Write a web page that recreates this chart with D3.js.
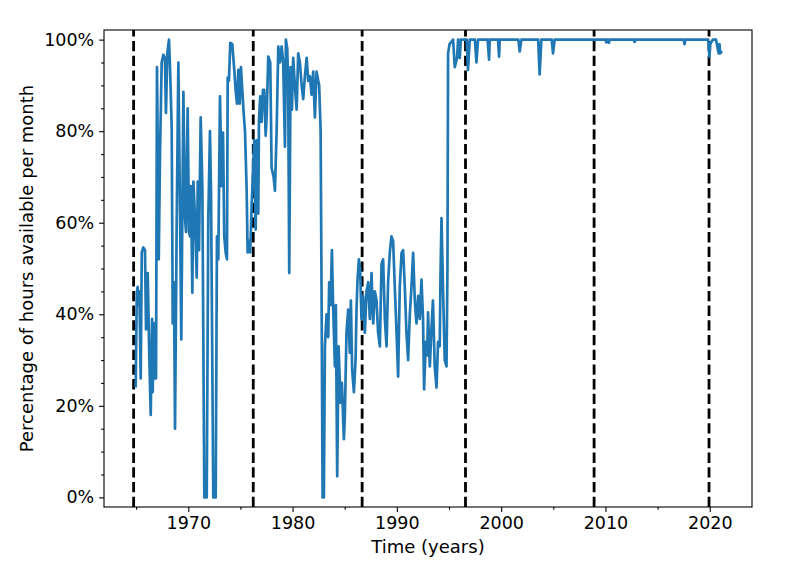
<!DOCTYPE html>
<html>
<head>
<meta charset="utf-8">
<script src="https://cdn.jsdelivr.net/npm/d3@7"></script>
<style>
body { margin: 0; background: #fff; }
svg { display: block; }
text { font-family: "DejaVu Sans", sans-serif; fill: #000; }
</style>
</head>
<body>
<svg id="chart" width="794" height="571"></svg>
<script>
// decimal year of each reading and % of hours available in that month
var years = [
	1964.96, 1965.06, 1965.15, 1965.21, 1965.31, 1965.44, 1965.54, 1965.69, 1965.85, 1965.95,
	1966.11, 1966.27, 1966.40, 1966.53, 1966.59, 1966.69, 1966.78, 1966.91, 1967.00, 1967.17,
	1967.29, 1967.45, 1967.61, 1967.76, 1967.86, 1967.99, 1968.15, 1968.25, 1968.41, 1968.51,
	1968.63, 1968.73, 1968.89, 1969.05, 1969.21, 1969.33, 1969.53, 1969.69, 1969.78, 1969.94,
	1970.07, 1970.17, 1970.26, 1970.39, 1970.49, 1970.65, 1970.81, 1970.91, 1971.03, 1971.19,
	1971.35, 1971.54, 1971.77, 1971.92, 1972.08, 1972.18, 1972.40, 1972.63, 1972.75, 1972.88,
	1973.04, 1973.20, 1973.33, 1973.45, 1973.59, 1973.71, 1973.78, 1973.90, 1974.03, 1974.22,
	1974.41, 1974.54, 1974.67, 1974.80, 1974.93, 1975.05, 1975.18, 1975.31, 1975.44, 1975.60,
	1975.69, 1975.82, 1975.94, 1976.08, 1976.20, 1976.33, 1976.46, 1976.58, 1976.71, 1976.78,
	1976.90, 1977.03, 1977.16, 1977.28, 1977.42, 1977.51, 1977.67, 1977.86, 1977.99, 1978.18,
	1978.31, 1978.47, 1978.63, 1978.79, 1978.95, 1979.10, 1979.27, 1979.36, 1979.49, 1979.58,
	1979.68, 1979.81, 1979.94, 1980.06, 1980.22, 1980.39, 1980.54, 1980.70, 1980.87, 1981.02,
	1981.18, 1981.35, 1981.50, 1981.66, 1981.82, 1981.98, 1982.14, 1982.30, 1982.46, 1982.55,
	1982.69, 1982.78, 1982.88, 1983.00, 1983.10, 1983.26, 1983.42, 1983.51, 1983.64, 1983.77,
	1983.89, 1984.06, 1984.15, 1984.28, 1984.41, 1984.60, 1984.73, 1984.92, 1985.01, 1985.17,
	1985.33, 1985.49, 1985.59, 1985.71, 1985.88, 1986.04, 1986.13, 1986.23, 1986.36, 1986.48,
	1986.61, 1986.77, 1986.93, 1987.09, 1987.25, 1987.41, 1987.57, 1987.73, 1987.89, 1988.05,
	1988.20, 1988.37, 1988.53, 1988.68, 1988.85, 1989.01, 1989.16, 1989.32, 1989.48, 1989.64,
	1989.80, 1989.97, 1990.12, 1990.28, 1990.45, 1990.60, 1990.76, 1990.92, 1991.08, 1991.24,
	1991.40, 1991.56, 1991.72, 1991.88, 1992.04, 1992.20, 1992.36, 1992.51, 1992.61, 1992.77,
	1992.90, 1992.99, 1993.16, 1993.32, 1993.46, 1993.63, 1993.80, 1993.95, 1994.11, 1994.18,
	1994.28, 1994.43, 1994.59, 1994.76, 1994.85, 1994.91, 1995.05, 1995.23, 1995.39, 1995.55,
	1995.77, 1995.87, 1996.03, 1996.13, 1996.70, 1996.82, 1996.99, 1997.48, 1997.63, 1997.78,
	1998.70, 1998.84, 1998.90, 1999.70, 1999.80, 1999.86, 2001.65, 2001.78, 2001.94, 2003.55,
	2003.69, 2003.85, 2004.85, 2004.97, 2005.13, 2010.00, 2010.08, 2010.16, 2010.25, 2010.33,
	2010.41, 2012.70, 2012.79, 2012.88, 2017.50, 2017.58, 2017.66, 2019.85, 2019.97, 2020.05,
	2020.29, 2020.60, 2020.85, 2020.93, 2021.00, 2021.18
];
var available = [
	24, 44.7, 46, 42, 45, 26, 53.5, 54.6, 54, 36.7,
	49, 30, 18, 39, 23, 38, 26, 26, 94, 52,
	75, 95, 96.7, 96, 84, 97, 100, 94, 81, 38,
	47, 15, 60, 95, 62, 34.5, 88.6, 61, 58, 85,
	58, 57, 68, 44.7, 69, 61, 48, 69, 54, 83,
	68, 0, 0, 61, 80, 67, 0, 0, 57, 52,
	87.6, 68, 79.7, 57, 53.4, 52, 91.7, 91, 99.3, 99,
	93.4, 89, 86, 93.4, 86, 94, 89, 84, 80, 67,
	53.5, 56, 53.5, 64, 71, 78, 58.5, 78, 62, 82.5,
	87.6, 82, 89, 89, 79, 83, 96.3, 95, 72, 70,
	67, 80, 98.5, 95, 98.5, 95, 76.6, 100, 98, 90,
	49, 94, 84.7, 96, 90, 84.7, 97, 95, 90, 87,
	92, 96, 91, 92, 88, 93, 83, 93, 91, 90,
	80, 45, 0, 0, 33, 40, 35, 47, 42, 54,
	41.7, 28.6, 42, 4.6, 33, 20.7, 25, 12.7, 17.7, 36,
	41, 31.6, 43, 28, 23, 30, 41, 47.6, 52, 50,
	38.9, 44, 36, 45, 47, 39, 49, 38, 45, 43,
	36, 33, 51, 52, 39, 33, 47, 53.4, 57, 56,
	46, 36, 26.4, 46, 53.4, 54, 46, 36, 30, 40,
	46, 53.4, 43, 38, 44, 39, 47.6, 39, 23.6, 34,
	31, 40.4, 28.6, 37, 43, 28.6, 24, 34, 33, 48,
	61, 45, 30, 28.6, 50, 97, 99, 99.5, 100, 94,
	96, 100, 96, 100, 100, 93.4, 100, 100, 95, 100,
	100, 95.6, 100, 100, 96.3, 100, 100, 97.4, 100, 100,
	92.4, 100, 100, 97, 100, 100, 99.4, 100, 100, 99.3,
	100, 100, 99.5, 100, 100, 99, 100, 100, 96.3, 99,
	100, 100, 97, 99, 97, 97.5
];
// solar cycle minima (dashed lines)
var cycleMinima = [1964.76, 1976.23, 1986.67, 1996.58, 2008.91, 2019.93];
var xTicks = [1970, 1980, 1990, 2000, 2010, 2020];
var xMinorTicks = [1965, 1975, 1985, 1995, 2005, 2015];
var yTicks = [0, 20, 40, 60, 80, 100];
var yMinorTicks = [5, 10, 15, 25, 30, 35, 45, 50, 55, 65, 70, 75, 85, 90, 95];

var svg = d3.select("#chart");
var plotLeft = 104, plotRight = 752, plotTop = 30, plotBottom = 507;

var x = d3.scaleLinear().domain([1961.92, 2024.05]).range([plotLeft, plotRight]);
var y = d3.scaleLinear().domain([-2.1, 102.1]).range([plotBottom, plotTop]);

var series = years.map(function(t, i) { return {t: t, v: available[i]}; });

svg.append("g")
	.attr("class", "minima")
	.selectAll("line")
	.data(cycleMinima)
	.enter().append("line")
	.attr("x1", function(d) { return x(d); })
	.attr("x2", function(d) { return x(d); })
	.attr("y1", plotBottom)
	.attr("y2", plotTop)
	.attr("stroke", "#000")
	.attr("stroke-width", 2.8)
	.attr("stroke-dasharray", "10.3,4.4");

var line = d3.line()
	.x(function(d) { return x(d.t); })
	.y(function(d) { return y(d.v); });

svg.append("path")
	.datum(series)
	.attr("d", line)
	.attr("fill", "none")
	.attr("stroke", "#1f77b4")
	.attr("stroke-width", 2.7)
	.attr("stroke-linejoin", "round");

// axes
svg.append("g")
	.attr("transform", "translate(0," + plotBottom + ")")
	.call(d3.axisBottom(x).tickValues(xTicks).tickSize(4.9).tickPadding(4.9).tickFormat(d3.format("d")));
svg.append("g")
	.attr("transform", "translate(0," + plotBottom + ")")
	.call(d3.axisBottom(x).tickValues(xMinorTicks).tickSize(2.8).tickFormat(""));
svg.append("g")
	.attr("transform", "translate(" + plotLeft + ",0)")
	.call(d3.axisLeft(y).tickValues(yTicks).tickSize(4.9).tickPadding(4.9).tickFormat(function(d) { return d + "%"; }));
svg.append("g")
	.attr("transform", "translate(" + plotLeft + ",0)")
	.call(d3.axisLeft(y).tickValues(yMinorTicks).tickSize(2.8).tickFormat(""));

svg.selectAll(".domain").remove();
svg.selectAll(".tick line").attr("stroke", "#000").attr("stroke-width", 1.1);
svg.selectAll(".tick text").attr("font-size", 17.5).attr("font-family", "DejaVu Sans, sans-serif");

svg.append("rect")
	.attr("x", plotLeft).attr("y", plotTop)
	.attr("width", plotRight - plotLeft).attr("height", plotBottom - plotTop)
	.attr("fill", "none")
	.attr("stroke", "#000")
	.attr("stroke-width", 1.1);

svg.append("text")
	.attr("x", (plotLeft + plotRight) / 2)
	.attr("y", 553)
	.attr("text-anchor", "middle")
	.attr("font-size", 18)
	.text("Time (years)");

svg.append("text")
	.attr("transform", "translate(33," + (plotTop + plotBottom) / 2 + ") rotate(-90)")
	.attr("text-anchor", "middle")
	.attr("font-size", 18)
	.text("Percentage of hours available per month");
</script>
</body>
</html>
